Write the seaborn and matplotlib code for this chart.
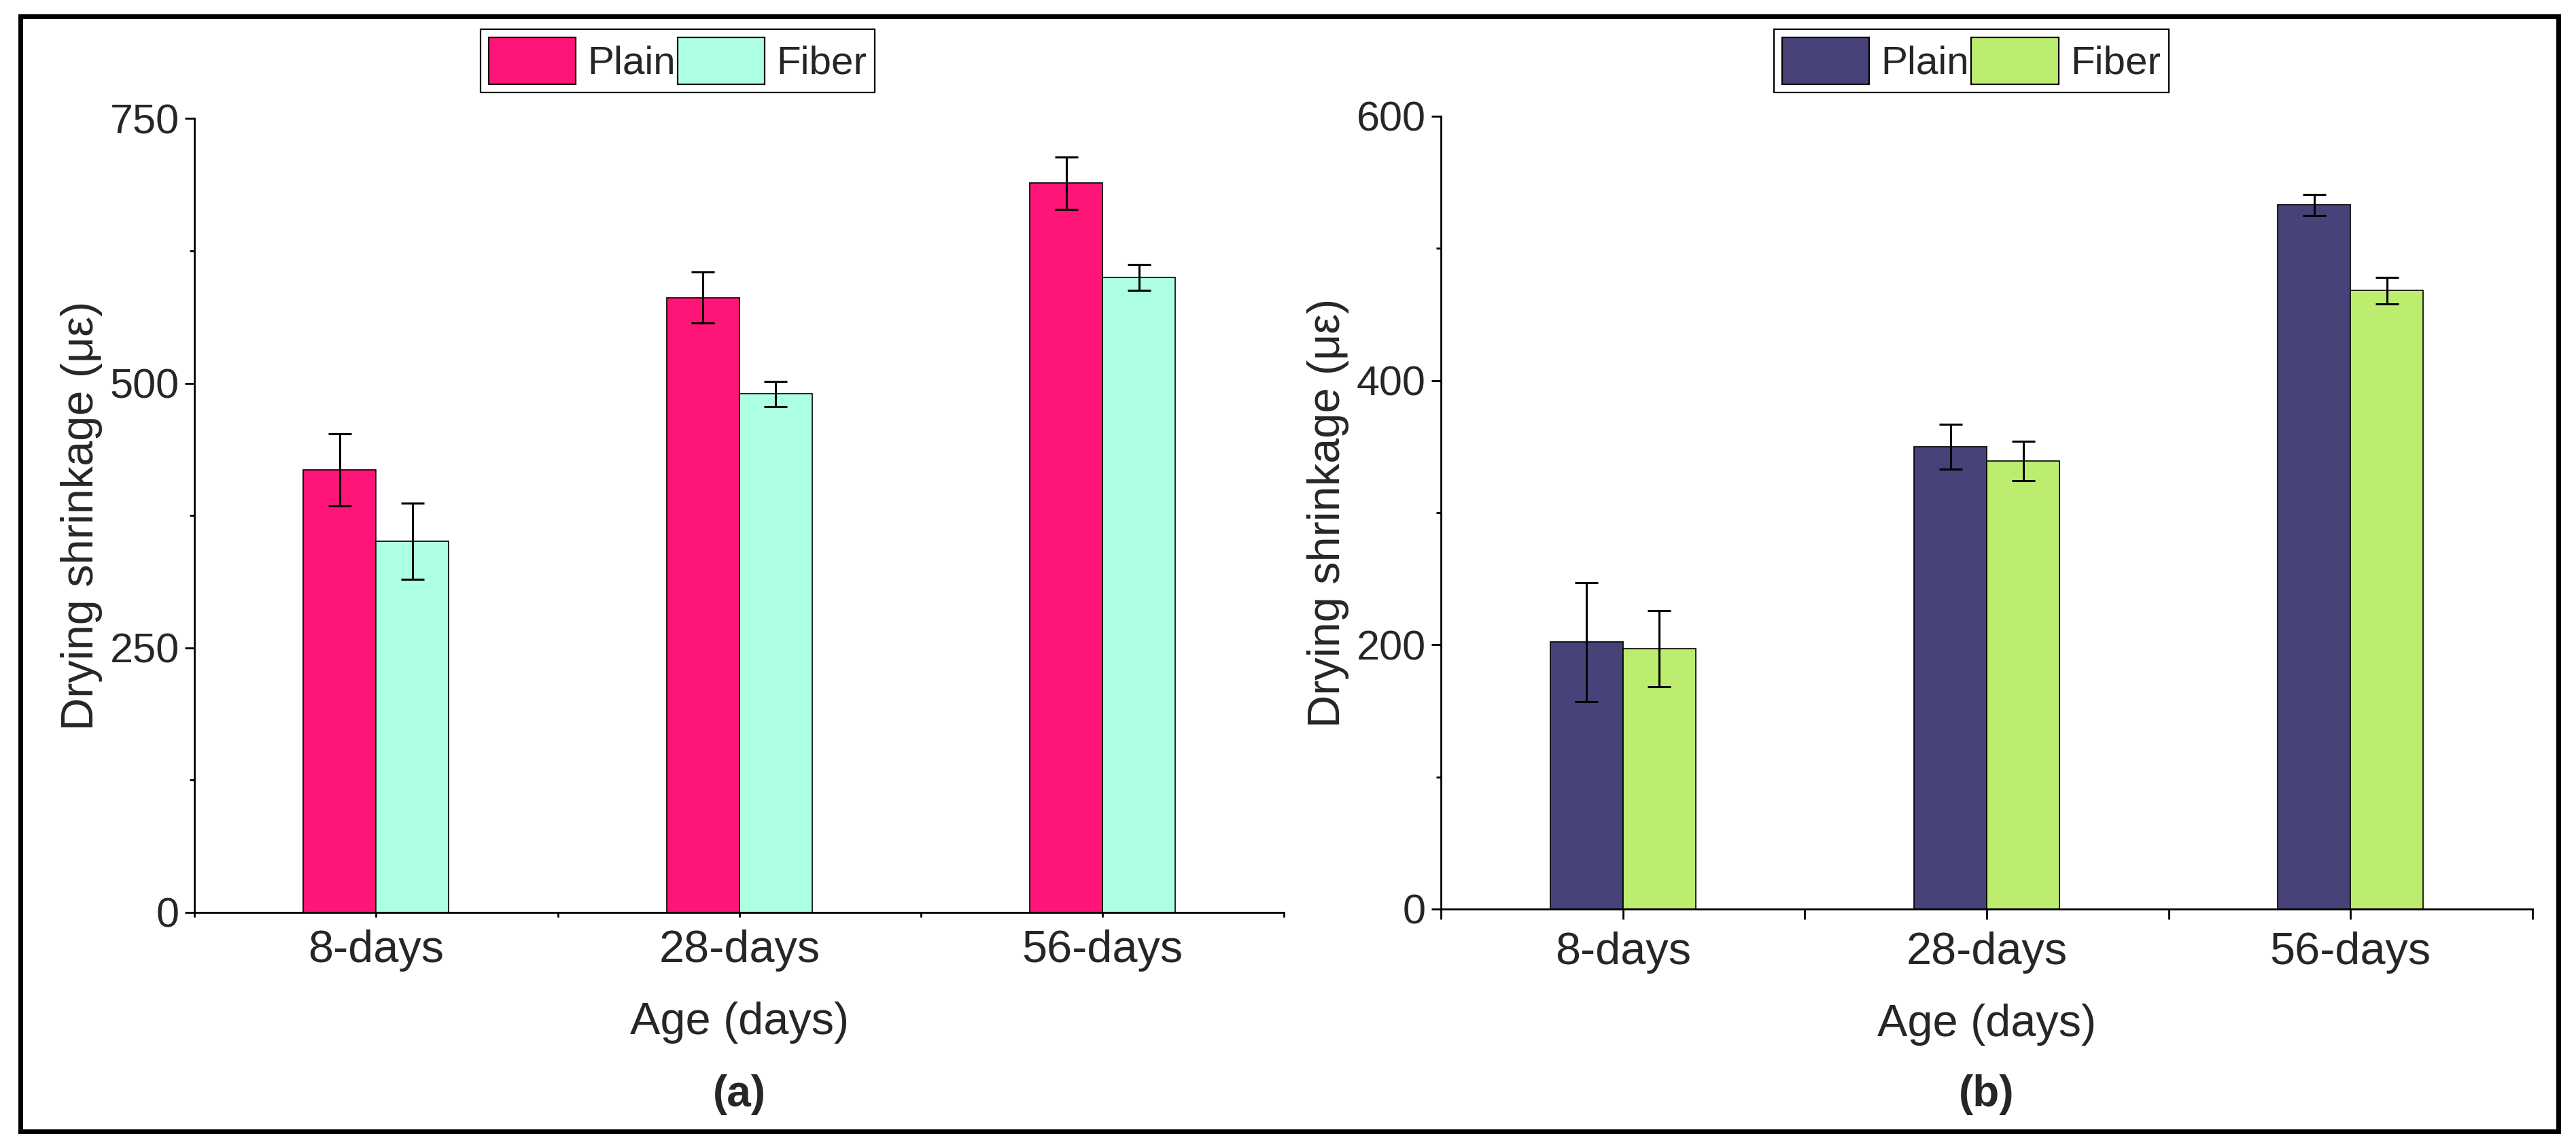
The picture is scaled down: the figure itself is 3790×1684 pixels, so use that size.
import numpy as np
import pandas as pd
import seaborn as sns
import matplotlib
matplotlib.use("Agg")
import matplotlib.pyplot as plt
from matplotlib.patches import Patch, Rectangle
from matplotlib.ticker import MultipleLocator

ages = ["8-days", "28-days", "56-days"]
mixes = ["Plain", "Fiber"]

# panel (a)
a_plain = [418, 581, 689]
a_plain_err = [34, 24, 25]
a_fiber = [351, 490, 600]
a_fiber_err = [36, 12, 12.5]

# panel (b)
b_plain = [202, 350, 533]
b_plain_err = [45, 17, 8]
b_fiber = [197, 339, 468]
b_fiber_err = [29, 15, 10]

colors_a = {"Plain": "#FF1477", "Fiber": "#ADFFE2"}
colors_b = {"Plain": "#474379", "Fiber": "#BDED6F"}

sns.set_style("ticks")
plt.rcParams["font.family"] = ["Liberation Sans", "DejaVu Sans"]


def draw_panel(fig, rect, plain, plain_err, fiber, fiber_err, colors,
               ymax, major, minor, xtick_len, tag, legend_x):
    ax = fig.add_axes(rect)
    df = pd.DataFrame({"age": ages * 2,
                       "mix": ["Plain"] * len(ages) + ["Fiber"] * len(ages),
                       "shrink": plain + fiber})
    sns.barplot(data=df, x="age", y="shrink", hue="mix", order=ages,
                hue_order=mixes, palette=colors, width=0.4, gap=0,
                errorbar=None, edgecolor="black", linewidth=0.6,
                saturation=1, legend=False, ax=ax)
    # error bars on top of the bars seaborn drew
    bars = list(ax.containers[:2])
    for cont, err in zip(bars, [plain_err, fiber_err]):
        xs = [p.get_x() + p.get_width() / 2 for p in cont.patches]
        hs = [p.get_height() for p in cont.patches]
        ax.errorbar(xs, hs, yerr=err, fmt="none", ecolor="black",
                    elinewidth=1.1, capsize=6, capthick=1.1)

    ax.set_xlim(-0.5, 2.5)
    ax.set_ylim(0, ymax)
    ax.yaxis.set_major_locator(MultipleLocator(major))
    ax.yaxis.set_minor_locator(MultipleLocator(minor))
    ax.set_xticks([-0.5, 0.5, 1.5, 2.5], minor=True)
    sns.despine(ax=ax)
    for side in ["left", "bottom"]:
        ax.spines[side].set_linewidth(1.0)
        ax.spines[side].set_color("black")
    ax.tick_params(axis="y", which="major", length=5, width=1,
                   labelsize=22, pad=3, color="black")
    ax.tick_params(axis="y", which="minor", length=2.7, width=1, color="black")
    ax.tick_params(axis="x", which="both", length=xtick_len, width=1,
                   labelsize=24, pad=6.5, color="black")
    ax.set_xlabel("Age (days)", fontsize=24, labelpad=16)
    ax.set_ylabel("Drying shrinkage (με)", fontsize=24, labelpad=4)

    handles = [Patch(facecolor=colors[m], edgecolor="black", linewidth=0.8,
                     label=m) for m in mixes]
    leg = fig.legend(handles=handles, loc="upper left",
                     bbox_to_anchor=(legend_x, 0.9745), ncol=2, fontsize=21,
                     frameon=True, fancybox=False, edgecolor="black",
                     framealpha=1, handlelength=2.2, handleheight=1.45,
                     handletextpad=0.3, columnspacing=0.05, borderpad=0.2,
                     borderaxespad=0)
    leg.get_frame().set_linewidth(0.8)

    x_mid = rect[0] + rect[2] / 2
    fig.text(x_mid, 0.044, tag, ha="center", va="center", fontsize=23,
             fontweight="bold")
    return ax


fig = plt.figure(figsize=(18.95, 8.42))

draw_panel(fig, [0.0755, 0.2031, 0.4230, 0.6933], a_plain, a_plain_err,
           a_fiber, a_fiber_err, colors_a, 750, 250, 125, 2.5, "(a)", 0.1865)
draw_panel(fig, [0.5594, 0.2061, 0.4237, 0.6924], b_plain, b_plain_err,
           b_fiber, b_fiber_err, colors_b, 600, 200, 100, 5.4, "(b)", 0.6887)

# outer border round the whole figure
fig.add_artist(Rectangle((0.0079, 0.0119), 0.9852, 0.9738,
                         transform=fig.transFigure, fill=False, lw=2.5,
                         edgecolor="black"))

fig.savefig("out.png", dpi=200)
